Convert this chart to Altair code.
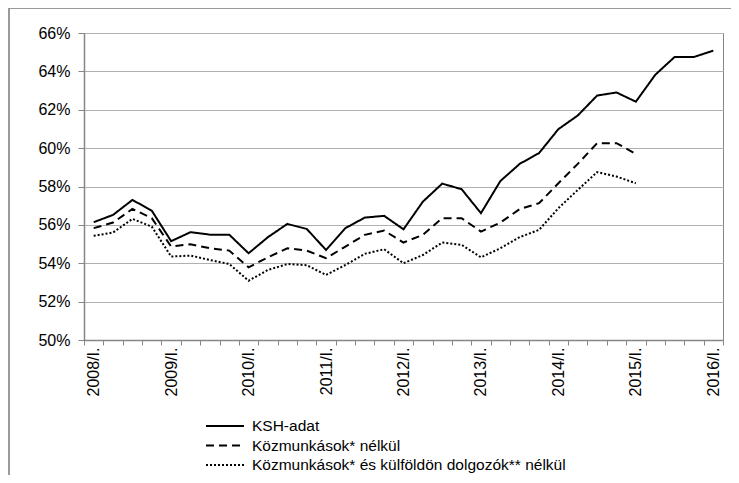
import json
import altair as alt
import pandas as pd

years = list(range(2008, 2017))
roman = ["I.", "II.", "III.", "IV."]
quarters = [f"{y}/{r}" for y in years for r in roman][:33]
x_labels = [q if q.endswith("/I.") else "" for q in quarters]

series_names = [
    "KSH-adat",
    "Közmunkások* nélkül",
    "Közmunkások* és külföldön dolgozók** nélkül",
]

ksh = [56.14, 56.52, 57.30, 56.74, 55.15, 55.62, 55.49, 55.49,
       54.52, 55.36, 56.05, 55.79, 54.69, 55.83, 56.38, 56.47,
       55.77, 57.21, 58.15, 57.86, 56.61, 58.28, 59.18, 59.74,
       60.99, 61.70, 62.74, 62.90, 62.42, 63.82, 64.75, 64.75,
       65.08]
kozmunka = [55.83, 56.12, 56.83, 56.35, 54.87, 54.99, 54.78, 54.66,
            53.79, 54.31, 54.78, 54.66, 54.26, 54.87, 55.48, 55.70,
            55.08, 55.48, 56.35, 56.35, 55.65, 56.12, 56.82, 57.13,
            58.17, 59.18, 60.26, 60.26, 59.70]
kulfold = [55.43, 55.60, 56.31, 55.91, 54.35, 54.40, 54.17, 53.96,
           53.09, 53.65, 53.96, 53.90, 53.39, 53.91, 54.49, 54.73,
           54.00, 54.43, 55.08, 54.96, 54.31, 54.78, 55.36, 55.74,
           56.87, 57.82, 58.75, 58.52, 58.17]

y_ticks = [50, 52, 54, 56, 58, 60, 62, 64, 66]

rows = []
for name, vals in zip(series_names, [ksh, kozmunka, kulfold]):
    for i, v in enumerate(vals):
        rows.append({"idx": i, "v": v, "s": name})
df = pd.DataFrame(rows)

n = len(quarters)
boundaries = [i - 0.5 for i in range(n + 1)]

W, H = 639, 307
FONT = "Liberation Sans"
AXIS_GRAY = "#868686"

label_expr = "(" + json.dumps(x_labels) + ")[round(datum.value + 0.5)] || ''"

lines = alt.Chart(df).mark_line(color="black", strokeWidth=2).encode(
    x=alt.X(
        "idx:Q",
        scale=alt.Scale(domain=[-0.5, n - 0.5], nice=False, zero=False),
        axis=alt.Axis(
            title=None,
            values=boundaries,
            labelAngle=-90,
            labelAlign="right",
            labelBaseline="middle",
            labelExpr=label_expr,
            labelOffset=W / n / 2,
            labelOverlap=False,
            labelBound=False,
            labelFlush=False,
            tickSize=5,
            labelPadding=2,
            grid=False,
        ),
    ),
    y=alt.Y(
        "v:Q",
        scale=alt.Scale(domain=[50, 66], nice=False, zero=False),
        axis=alt.Axis(
            title=None,
            values=y_ticks,
            labelExpr="datum.value + '%'",
            tickSize=6,
            labelPadding=8,
            grid=True,
        ),
    ),
    strokeDash=alt.StrokeDash(
        "s:N",
        sort=series_names,
        scale=alt.Scale(domain=series_names, range=[[1, 0], [8, 5], [2, 2]]),
        legend=alt.Legend(
            title=None,
            orient="none",
            legendX=132,
            legendY=384,
            direction="vertical",
            symbolType="M-2.375,0H2.375",
            symbolSize=256,
            symbolStrokeWidth=2,
            symbolStrokeColor="black",
            symbolFillColor="transparent",
            labelFontSize=15.5,
            labelFont=FONT,
            labelColor="black",
            labelOffset=18,
            labelLimit=600,
            rowPadding=1.5,
        ),
    ),
)

frame = alt.Chart(pd.DataFrame({"a": [0]}))
top_border = frame.mark_rule(color="#9a9a9a", strokeWidth=1).encode(
    x=alt.value(-76), x2=alt.value(650), y=alt.value(-24.5)
)
left_border = frame.mark_rule(color="#9a9a9a", strokeWidth=2).encode(
    x=alt.value(-75), y=alt.value(-25), y2=alt.value(460)
)

chart = (
    alt.layer(lines, top_border, left_border)
    .properties(
        width=W,
        height=H,
        autosize=alt.AutoSizeParams(type="none"),
        padding={"left": 76, "top": 25, "right": 8, "bottom": 135},
    )
    .configure_view(stroke=AXIS_GRAY, strokeWidth=1)
    .configure_axis(
        labelFont=FONT,
        labelFontSize=16,
        labelColor="black",
        domainColor=AXIS_GRAY,
        tickColor=AXIS_GRAY,
        gridColor="#b0b0b0",
        domainWidth=1.5,
    )
)

chart.save("out.html", embed_options={"renderer": "svg", "actions": False})
